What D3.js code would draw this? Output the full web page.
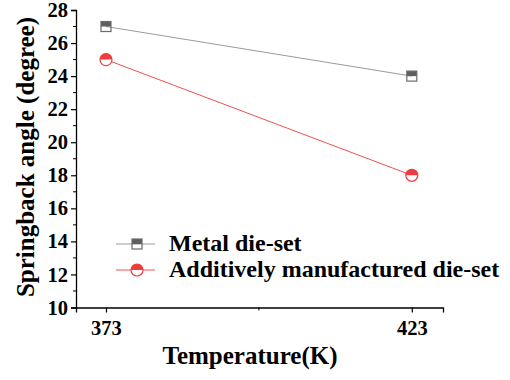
<!DOCTYPE html>
<html>
<head>
<meta charset="utf-8">
<script src="https://cdn.jsdelivr.net/npm/d3@7"></script>
<style>
  body { margin: 0; background: #fff; }
  text { font-family: "Liberation Serif", "Times New Roman", serif; font-weight: bold; }
</style>
</head>
<body>
<div id="viz"></div>
<script>
// values
const temps = [373, 423];
const metal = [27, 24];
const additive = [25, 18];
const seriesNames = ['Metal die-set', 'Additively manufactured die-set'];
const yTicks = [10, 12, 14, 16, 18, 20, 22, 24, 26, 28];

const width = 510;
const height = 380;

const svg = d3.select('#viz')
  .append('svg')
  .attr('width', width)
  .attr('height', height);

const x = d3.scaleLinear().domain([368.1, 428.1]).range([76, 443]);
const y = d3.scaleLinear().domain([10, 28]).range([307.5, 10]);

// axes
const xAxis = d3.axisBottom(x).tickValues(temps).tickSize(5).tickPadding(8).tickFormat(d3.format('d'));
const gx = svg.append('g').attr('transform', `translate(0, ${y.range()[0]})`).call(xAxis);
// minor x tick at midpoint
gx.append('line')
  .attr('x1', x(d3.mean(temps))).attr('x2', x(d3.mean(temps)))
  .attr('y1', 0).attr('y2', 3).attr('stroke', '#000');

const yAxis = d3.axisLeft(y).tickValues(yTicks).tickSize(5).tickPadding(3);
const gy = svg.append('g').attr('transform', `translate(${x.range()[0]}, 0)`).call(yAxis);
gy.selectAll('.minor')
  .data(d3.range(11, 28, 2))
  .enter().append('line')
  .attr('x1', -3).attr('x2', 0)
  .attr('y1', d => y(d)).attr('y2', d => y(d))
  .attr('stroke', '#000');

[gx, gy].forEach(g => {
  g.select('.domain').attr('stroke', '#000').attr('stroke-width', 1.3);
  g.selectAll('.tick line').attr('stroke', '#000').attr('stroke-width', 1.2);
  g.selectAll('.tick text')
    .attr('fill', '#000')
    .style('font-size', '20.5px')
    .style('font-family', '"Liberation Serif", "Times New Roman", serif')
    .style('font-weight', 'bold');
});

// axis titles
svg.append('text')
  .attr('x', 250).attr('y', 364)
  .attr('text-anchor', 'middle')
  .style('font-size', '25px')
  .text('Temperature(K)');

svg.append('text')
  .attr('transform', `translate(25, ${157}) rotate(-90)`)
  .attr('text-anchor', 'middle')
  .attr('dy', '0.35em')
  .style('font-size', '25px')
  .text('Springback angle (degree)');

// marker helpers
function squareMarker(g, cx, cy) {
  const s = 10;
  g.append('rect').attr('x', cx - s / 2).attr('y', cy - s / 2).attr('width', s).attr('height', s / 2)
    .attr('fill', '#5f5f5f');
  g.append('rect').attr('x', cx - s / 2).attr('y', cy - s / 2).attr('width', s).attr('height', s)
    .attr('fill', 'none').attr('stroke', '#6a6a6a').attr('stroke-width', 1.2);
}
function circleMarker(g, cx, cy) {
  const r = 6;
  g.append('circle').attr('cx', cx).attr('cy', cy).attr('r', r).attr('fill', '#fff');
  g.append('path')
    .attr('d', `M${cx - r},${cy} A${r},${r} 0 0 1 ${cx + r},${cy} Z`)
    .attr('fill', '#f03c3c');
  g.append('circle').attr('cx', cx).attr('cy', cy).attr('r', r)
    .attr('fill', 'none').attr('stroke', '#f03c3c').attr('stroke-width', 1.2);
}

const series = [
  { name: seriesNames[0], values: metal, color: '#9a9a9a', marker: squareMarker },
  { name: seriesNames[1], values: additive, color: '#f05050', marker: circleMarker },
];

const line = d3.line()
  .x((d, i) => x(temps[i]))
  .y(d => y(d));

series.forEach(s => {
  svg.append('path')
    .datum(s.values)
    .attr('d', line)
    .attr('fill', 'none')
    .attr('stroke', s.color)
    .attr('stroke-width', 1);
  const g = svg.append('g');
  s.values.forEach((v, i) => s.marker(g, x(temps[i]), y(v)));
});

// legend
const legendRows = [244, 270];
series.forEach((s, i) => {
  const ly = legendRows[i];
  svg.append('line')
    .attr('x1', 116).attr('x2', 155)
    .attr('y1', ly).attr('y2', ly)
    .attr('stroke', s.color).attr('stroke-width', 1);
  s.marker(svg.append('g'), 137, ly);
  svg.append('text')
    .attr('x', 169).attr('y', ly + 7)
    .style('font-size', '24px')
    .text(s.name);
});
</script>
</body>
</html>
